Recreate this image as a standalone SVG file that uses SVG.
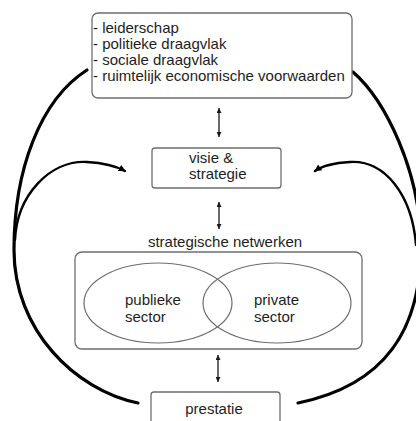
<svg xmlns="http://www.w3.org/2000/svg" width="416" height="421" viewBox="0 0 416 421">
<defs>
<style>
.box{fill:#fff;stroke:#6e6e6e;stroke-width:1.3}
.ell{fill:none;stroke:#6e6e6e;stroke-width:1.2}
.t{font-family:"Liberation Sans",Arial,sans-serif;font-size:15px;fill:#1e1e1e}
.v{fill:none;stroke:#1a1a1a;stroke-width:1.3}
.loop{fill:none;stroke:#000;stroke-width:3.2;stroke-linecap:round}
.inner{fill:none;stroke:#000;stroke-width:2.4;stroke-linecap:round}
</style>
<marker id="ah" viewBox="0 0 10 10" refX="10" refY="5" markerWidth="5" markerHeight="5" orient="auto-start-reverse" markerUnits="userSpaceOnUse">
<path d="M0,0 L10,5 L0,10 z" fill="#1a1a1a"/>
</marker>
<marker id="ah2" viewBox="0 0 10 10" refX="9" refY="5" markerWidth="7" markerHeight="7" orient="auto" markerUnits="userSpaceOnUse">
<path d="M0,0 L10,5 L0,10 z" fill="#000"/>
</marker>
</defs>
<g id="connectors">
<path class="loop" d="M 87 70 C 40 100, 14 170, 14 250 C 14 330, 75 390, 138 403"/>
<path class="loop" d="M 353 72 C 385 100, 420 170, 421 245 C 421 330, 385 385, 298 403"/>
<path class="inner" marker-end="url(#ah2)" d="M 15 240 C 17 195, 50 160, 87 162 C 105 163, 116 166, 125 171"/>
<path class="inner" marker-end="url(#ah2)" d="M 416 245 C 412 195, 385 160, 350 162 C 333 163, 322 166, 315 171"/>
<line class="v" x1="219" y1="108" x2="219" y2="137" marker-start="url(#ah)" marker-end="url(#ah)"/>
<line class="v" x1="219" y1="202" x2="219" y2="229" marker-start="url(#ah)" marker-end="url(#ah)"/>
<line class="v" x1="218" y1="355" x2="218" y2="382" marker-start="url(#ah)" marker-end="url(#ah)"/>
</g>
<g id="voorwaarden">
<rect class="box" x="92" y="13" width="260" height="85" rx="6"/>
<text class="t" x="93" y="33">- leiderschap</text>
<text class="t" x="93" y="49">- politieke draagvlak</text>
<text class="t" x="93" y="65">- sociale draagvlak</text>
<text class="t" x="93" y="81">- ruimtelijk economische voorwaarden</text>
</g>
<g id="visie">
<rect class="box" x="152" y="148" width="129" height="40" rx="3"/>
<text class="t" x="189" y="163">visie &amp;</text>
<text class="t" x="189" y="179">strategie</text>
</g>
<g id="netwerken">
<text class="t" x="225" y="247" text-anchor="middle">strategische netwerken</text>
<rect class="box" x="75" y="252" width="287" height="97" rx="7"/>
</g>
<g id="publiek">
<ellipse class="ell" cx="158" cy="303" rx="74" ry="40"/>
<text class="t" x="125" y="305">publieke</text>
<text class="t" x="125" y="322">sector</text>
</g>
<g id="privaat">
<ellipse class="ell" cx="277" cy="303" rx="74" ry="40"/>
<text class="t" x="254" y="305">private</text>
<text class="t" x="254" y="322">sector</text>
</g>
<g id="prestatie">
<rect class="box" x="151" y="392" width="129" height="40" rx="3"/>
<text class="t" x="214" y="414" text-anchor="middle">prestatie</text>
</g>
</svg>
